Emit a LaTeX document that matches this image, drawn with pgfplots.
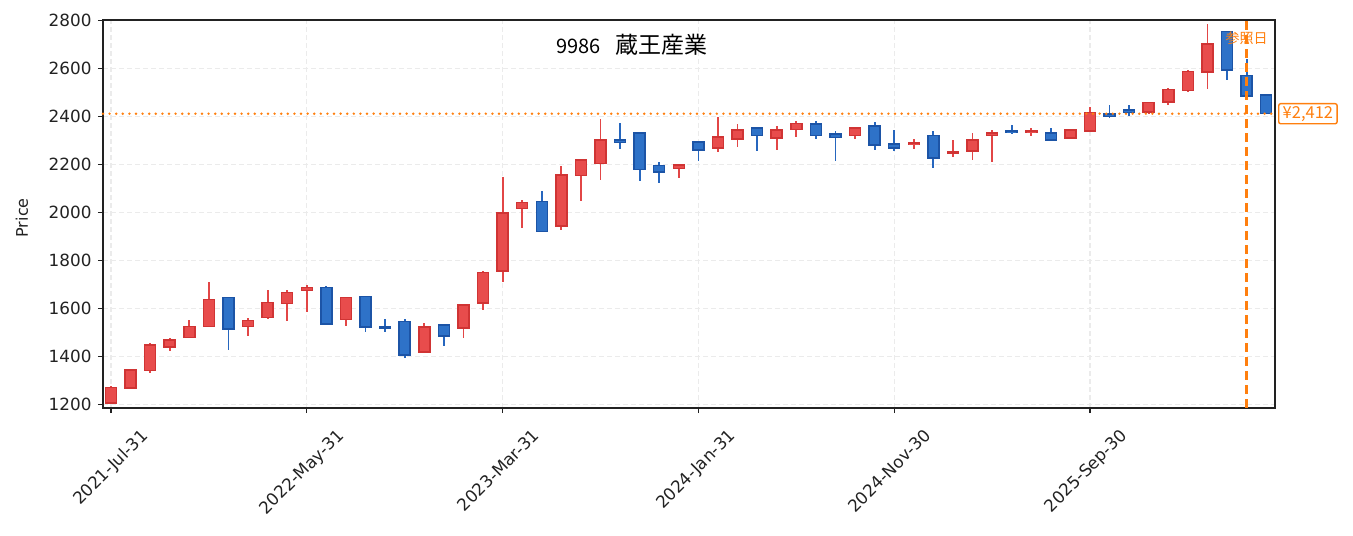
\documentclass[border=0pt]{standalone}
\usepackage{pgfplots}
\pgfplotsset{compat=1.18}
\usepackage{pgfplotstable}
\usepackage{fontspec}
\setmainfont{DejaVu Sans}
\newfontfamily\cjk{Noto Sans CJK JP}
\definecolor{upFill}{RGB}{232,76,76}
\definecolor{upEdge}{RGB}{208,52,52}
\definecolor{upWick}{RGB}{226,70,70}
\definecolor{dnFill}{RGB}{46,114,200}
\definecolor{dnEdge}{RGB}{28,84,166}
\definecolor{dnWick}{RGB}{38,102,190}
\definecolor{orangeC}{RGB}{255,127,14}
\definecolor{axisC}{RGB}{34,34,34}

% up (close >= open) candles
\pgfplotstableread{
i O H L C
0 1204 1276 1202 1270
1 1268 1344 1262 1342
2 1340 1457 1329 1446
3 1439 1474 1421 1467
4 1478 1553 1476 1525
5 1524 1711 1522 1636
7 1524 1561 1486 1550
8 1561 1678 1555 1625
9 1620 1676 1549 1667
10 1674 1697 1583 1686
12 1553 1647 1528 1646
16 1417 1540 1412 1521
18 1518 1618 1475 1613
19 1622 1755 1595 1750
20 1756 2147 1708 1997
21 2016 2052 1934 2041
23 1944 2193 1926 2157
24 2155 2221 2048 2219
25 2205 2390 2136 2303
29 2184 2200 2144 2198
31 2268 2398 2251 2315
32 2307 2367 2272 2345
34 2311 2359 2262 2345
35 2346 2380 2314 2371
38 2321 2358 2306 2352
41 2283 2308 2263 2290
43 2249 2304 2231 2254
44 2256 2332 2220 2303
45 2322 2346 2209 2332
47 2333 2353 2318 2340
49 2311 2350 2309 2345
50 2340 2441 2336 2418
53 2419 2461 2411 2459
54 2461 2520 2447 2514
55 2509 2595 2501 2589
56 2585 2788 2513 2703
}\up

% down (close < open) candles
\pgfplotstableread{
i O H L C
6 1646 1648 1424 1514
11 1687 1692 1533 1535
13 1650 1651 1500 1522
14 1524 1557 1500 1518
15 1546 1557 1392 1406
17 1531 1532 1442 1485
22 2045 2088 1920 1921
26 2302 2373 2265 2293
27 2332 2333 2131 2179
28 2196 2210 2124 2168
30 2294 2295 2216 2261
33 2353 2354 2258 2320
36 2370 2380 2305 2321
37 2327 2338 2213 2315
39 2360 2378 2259 2282
40 2285 2346 2257 2268
42 2320 2338 2186 2228
46 2340 2363 2327 2333
48 2331 2354 2297 2303
51 2411 2447 2393 2401
52 2427 2450 2402 2420
57 2754 2756 2554 2595
58 2572 2640 2484 2486
59 2490 2491 2411 2412
}\down

\begin{document}
\begin{tikzpicture}
\path[use as bounding box] (0,0) rectangle (1353bp,536bp);
\begin{axis}[
  at={(103bp,128bp)}, anchor=south west,
  scale only axis, width=1172bp, height=388bp,
  xmin=-0.4086, xmax=59.45, ymin=1184, ymax=2803,
  clip=false,
  axis line style={axisC, line width=1.3bp},
  tick style={axisC, line width=1.3bp},
  major tick length=5bp,
  tick align=outside,
  xtick pos=left, ytick pos=left,
  xtick={0,10,20,30,40,50},
  xticklabels={2021-Jul-31,2022-May-31,2023-Mar-31,2024-Jan-31,2024-Nov-30,2025-Sep-30},
  ytick={1200,1400,...,2800},
  /pgf/number format/1000 sep={},
  /pgf/number format/assume math mode=true,
  yticklabel style={font=\fontsize{16.8bp}{16.8bp}\selectfont, text=axisC, xshift=-3bp},
  xticklabel style={font=\fontsize{16.8bp}{16.8bp}\selectfont, text=axisC, xshift=29bp, yshift=-10bp, rotate=45, anchor=north east},
  grid=major,
  major grid style={gray!16, line width=1.2bp, dash pattern=on 5bp off 3bp},
  ylabel={Price},
  every axis y label/.style={at={(rel axis cs:-0.0691,0.49)}, rotate=90, anchor=center, font=\fontsize{16bp}{16bp}\selectfont, text=axisC},
]
% wicks
\addplot[draw=none, mark=none, forget plot, error bars/.cd, y dir=both, y explicit, error mark=none,
  error bar style={draw=upWick, line width=1.8bp}]
  table[x=i, y expr={(\thisrow{H}+\thisrow{L})/2}, y error expr={(\thisrow{H}-\thisrow{L})/2}] {\up};
\addplot[draw=none, mark=none, forget plot, error bars/.cd, y dir=both, y explicit, error mark=none,
  error bar style={draw=dnWick, line width=1.8bp}]
  table[x=i, y expr={(\thisrow{H}+\thisrow{L})/2}, y error expr={(\thisrow{H}-\thisrow{L})/2}] {\down};
% body edges
\addplot[draw=none, mark=none, forget plot, error bars/.cd, y dir=both, y explicit, error mark=none,
  error bar style={draw=upEdge, line width=12.5bp}]
  table[x=i, y expr={(\thisrow{O}+\thisrow{C})/2}, y error expr={abs(\thisrow{C}-\thisrow{O})/2+3.1}] {\up};
\addplot[draw=none, mark=none, forget plot, error bars/.cd, y dir=both, y explicit, error mark=none,
  error bar style={draw=dnEdge, line width=12.5bp}]
  table[x=i, y expr={(\thisrow{O}+\thisrow{C})/2}, y error expr={abs(\thisrow{C}-\thisrow{O})/2+3.1}] {\down};
% body fills
\addplot[draw=none, mark=none, forget plot, error bars/.cd, y dir=both, y explicit, error mark=none,
  error bar style={draw=upFill, line width=9.5bp}]
  table[x=i, y expr={(\thisrow{O}+\thisrow{C})/2}, y error expr={max(abs(\thisrow{C}-\thisrow{O})/2-3.1,0)}] {\up};
\addplot[draw=none, mark=none, forget plot, error bars/.cd, y dir=both, y explicit, error mark=none,
  error bar style={draw=dnFill, line width=9.5bp}]
  table[x=i, y expr={(\thisrow{O}+\thisrow{C})/2}, y error expr={max(abs(\thisrow{C}-\thisrow{O})/2-3.1,0)}] {\down};
% reference lines
\addplot[orangeC, line width=2.7bp, line cap=round, dash pattern=on 0bp off 6.6bp, forget plot]
  coordinates {(-0.4086,2412) (59.45,2412)};
\addplot[orangeC, line width=2.5bp, dash pattern=on 9bp off 5bp, forget plot]
  coordinates {(58,1184) (58,2803)};
% texts
\node[font=\cjk\fontsize{14bp}{14bp}\selectfont, text=orangeC, anchor=center] at (axis cs:58,2725) {参照日};
\node[font=\cjk\fontsize{16.5bp}{16.5bp}\selectfont, text=orangeC, draw=orangeC, line width=1.4bp, fill=white,
  rounded corners=2bp, inner xsep=4bp, inner ysep=2.5bp, anchor=west] at (axis cs:59.45,2412) [xshift=3bp] {¥2,412};
\node[font=\cjk\fontsize{20bp}{20bp}\selectfont, text=black, anchor=center] at (rel axis cs:0.4514,0.9356)
  {9986\hspace{15bp}{\fontsize{23bp}{23bp}\selectfont 蔵王産業}};
\end{axis}
\end{tikzpicture}
\end{document}
